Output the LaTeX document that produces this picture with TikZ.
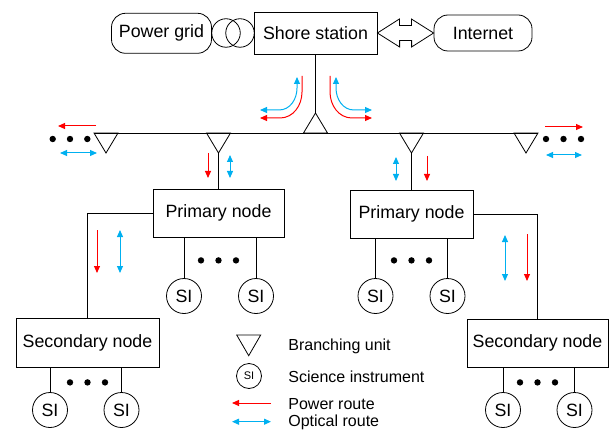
\documentclass[tikz,border=0pt]{standalone}
\usepackage{fontspec}
\setmainfont{Liberation Sans}
\usetikzlibrary{arrows.meta,positioning,calc}
\definecolor{PwrRed}{HTML}{FF0000}
\definecolor{OptBlue}{HTML}{00B0F0}

\begin{document}
\begin{tikzpicture}[x=1pt,y=-1pt,line width=0.8pt,
    lbl/.style={font=\fontsize{17.8}{20}\selectfont},
    box/.style={draw,lbl,inner sep=0pt,minimum height=48pt},
    rbox/.style={box,rounded corners=14pt},
    sinode/.style={circle,draw,lbl,inner sep=0pt,minimum size=35pt},
    xfmr/.style={circle,draw,inner sep=0pt,minimum size=28.5pt},
    pwr/.style={PwrRed,line width=1pt,-{Triangle[length=7pt,width=6pt]}},
    opt/.style={OptBlue,line width=1pt,{Triangle[length=7pt,width=6pt]}-{Triangle[length=7pt,width=6pt]}},
    legtxt/.style={anchor=west,inner sep=0pt,font=\fontsize{16}{18}\selectfont},
  ]
  \useasboundingbox (0,0) rectangle (609,430);

  % shore side
  \node[box,minimum width=123pt,minimum height=42pt] (shore) at (315.5,33) {Shore station};
  \node[rbox,minimum width=100pt,minimum height=40pt] (grid) at (161.5,33.3) {Power grid};
  \node[xfmr] (tr1) at (226,33) {};
  \node[xfmr] (tr2) at (240,33) {};
  \node[rbox,minimum width=98pt,minimum height=36pt] (inet) at (483,33) {Internet};
  \draw (shore.east) -- ++(22,-14) -- ++(0,6.5) -- ++(12,0) -- ++(0,-6.5) -- (inet.west)
    -- ++(-22,14) -- ++(0,-6.5) -- ++(-12,0) -- ++(0,6.5) -- cycle;

  % trunk and branching units
  \coordinate (bu0) at (315.5,113);
  \draw (shore.south) -- (bu0);
  \draw (bu0) -- ++(-12,20) -- ++(24,0) -- cycle;
  \foreach \n/\x in {1/106,2/218.5,3/411.5,4/526} {
    \coordinate (bu\n) at (\x,153);
    \draw (bu\n) -- ++(-12,-20) -- ++(24,0) -- cycle;
  }
  \draw ($(bu1)+(-12,-20)$) -- ($(bu4)+(12,-20)$);
  \foreach \x in {52.7,70,87.3,546,563.5,581} \fill (\x,139) circle[radius=3.2pt];

  % nodes
  \node[box,minimum width=131pt] (pn1) at (218.5,213) {Primary node};
  \node[box,minimum width=123pt] (pn2) at (411.5,214) {Primary node};
  \node[box,minimum width=143pt,minimum height=49pt] (sn1) at (87.5,342.5) {Secondary node};
  \node[box,minimum width=141pt] (sn2) at (537.5,343) {Secondary node};
  \draw (bu2) -- (pn1);
  \draw (bu3) -- (pn2);
  \draw (pn1.west) -| (sn1.north);
  \draw (pn2.east) -| (sn2.north);

  % science instruments
  \foreach \p/\a/\b/\y/\dy in {pn1/184/256/296/23, pn2/375.5/447.5/296/22,
                               sn1/50/121.5/410/15, sn2/503/574.5/410/15} {
    \node[sinode] (\p-l) at (\a,\y) {SI};
    \node[sinode] (\p-r) at (\b,\y) {SI};
    \draw (\p-l) -- (\p-l |- \p.south);
    \draw (\p-r) -- (\p-r |- \p.south);
    \foreach \d in {-17.5,0,17.5} \fill ($(\p.south)+(\d,\dy)$) circle[radius=3.2pt];
  }

  % routes
  \draw[pwr] (302,76) -- (302,92) to[out=-90,in=0] (280,118) -- (260,118);
  \draw[opt] (297,77) -- (297,88) to[out=-90,in=0] (279,110) -- (260,110);
  \draw[pwr] (330,76) -- (330,92) to[out=-90,in=180] (352,118) -- (372,118);
  \draw[opt] (336,77) -- (336,88) to[out=-90,in=180] (354,110) -- (372,110);
  \draw[pwr] (96,126) -- (58,126);
  \draw[opt] (60,153) -- (97,153);
  \draw[pwr] (545,127) -- (583,127);
  \draw[opt] (546,155) -- (582,155);
  \draw[pwr] (208,153) -- (208,178);
  \draw[opt] (230,155) -- (230,178);
  \draw[opt] (396,157) -- (396,181);
  \draw[pwr] (427,156) -- (427,181);
  \draw[pwr] (97,230) -- (97,273);
  \draw[opt] (120,230) -- (120,273);
  \draw[opt] (505,235) -- (505,281);
  \draw[pwr] (527,234) -- (527,281);

  % legend
  \draw (236.7,335) -- (260.7,335) -- (248.7,355.7) -- cycle;
  \node[circle,draw,inner sep=0pt,minimum size=25pt,font=\fontsize{11}{12}\selectfont] (legsi) at (249,376) {SI};
  \draw[pwr] (271,403) -- (232,403);
  \draw[opt] (232,421.7) -- (271,421.7);
  \node[legtxt] (legbu) at (288,346) {Branching unit};
  \node[legtxt] (legin) at (288,377) {Science instrument};
  \node[legtxt] (legpw) at (288,404) {Power route};
  \node[legtxt] (legop) at (288,422.5) {Optical route};
\end{tikzpicture}
\end{document}
